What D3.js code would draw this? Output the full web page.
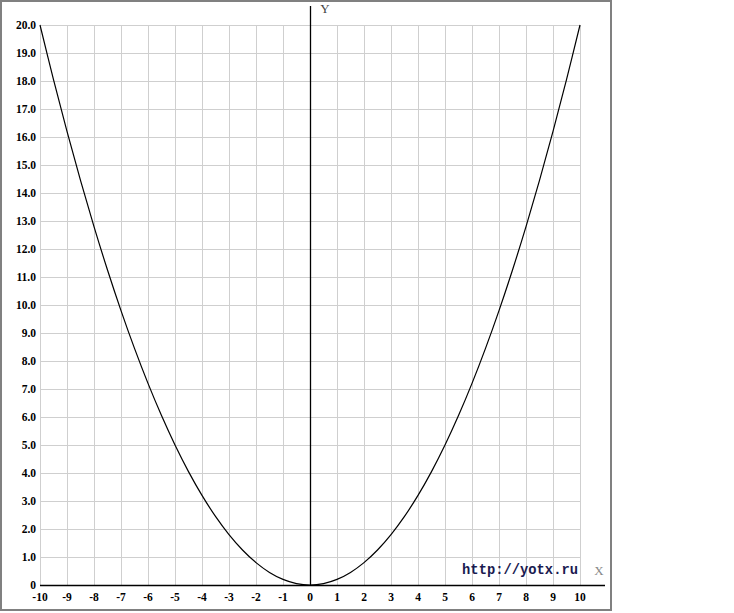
<!DOCTYPE html>
<html><head><meta charset="utf-8">
<script src="https://cdn.jsdelivr.net/npm/d3@7"></script>
<style>body{margin:0;background:#fff}svg{display:block}</style>
</head><body>
<script>
// Data (parabola points)
const xValues = [-10,-9.5,-9,-8.5,-8,-7.5,-7,-6.5,-6,-5.5,-5,-4.5,-4,-3.5,-3,-2.5,-2,-1.5,-1,-0.5,0,0.5,1,1.5,2,2.5,3,3.5,4,4.5,5,5.5,6,6.5,7,7.5,8,8.5,9,9.5,10];
const yValues = [20,18.05,16.2,14.45,12.8,11.25,9.8,8.45,7.2,6.05,5,4.05,3.2,2.45,1.8,1.25,0.8,0.45,0.2,0.05,0,0.05,0.2,0.45,0.8,1.25,1.8,2.45,3.2,4.05,5,6.05,7.2,8.45,9.8,11.25,12.8,14.45,16.2,18.05,20];
const xTicks = [-10,-9,-8,-7,-6,-5,-4,-3,-2,-1,0,1,2,3,4,5,6,7,8,9,10];
const yTicks = [0,1,2,3,4,5,6,7,8,9,10,11,12,13,14,15,16,17,18,19,20];
const yTickLabels = ["0","1.0","2.0","3.0","4.0","5.0","6.0","7.0","8.0","9.0","10.0","11.0","12.0","13.0","14.0","15.0","16.0","17.0","18.0","19.0","20.0"];
const watermark = "http://yotx.ru";

const W = 734, H = 613;
const svg = d3.select("body").append("svg").attr("width", W).attr("height", H);

const x = d3.scaleLinear().domain([-10, 10]).range([40, 580]);
const y = d3.scaleLinear().domain([0, 20]).range([585, 25]);

// frame
svg.append("rect").attr("x", 1).attr("y", 1).attr("width", 610).attr("height", 609)
  .attr("fill", "#fff").attr("stroke", "#808080").attr("stroke-width", 2);

// grid
const grid = svg.append("g").attr("stroke", "#cfcfcf").attr("stroke-width", 1).attr("shape-rendering", "crispEdges");
grid.selectAll("line.v").data(xTicks).join("line")
  .attr("x1", d => x(d) + 0.5).attr("x2", d => x(d) + 0.5)
  .attr("y1", y(20)).attr("y2", y(0));
grid.selectAll("line.h").data(yTicks).join("line")
  .attr("x1", x(-10)).attr("x2", x(10))
  .attr("y1", d => y(d) + 0.5).attr("y2", d => y(d) + 0.5);

// axes lines
svg.append("line").attr("x1", x(-10)).attr("x2", 605).attr("y1", y(0) + 0.5).attr("y2", y(0) + 0.5)
  .attr("stroke", "#000").attr("stroke-width", 1.3);
svg.append("line").attr("x1", x(0) + 0.5).attr("x2", x(0) + 0.5).attr("y1", 6).attr("y2", y(0))
  .attr("stroke", "#000").attr("stroke-width", 1.3);

// tick labels
svg.append("g").selectAll("text").data(yTicks).join("text")
  .attr("x", 36).attr("y", d => y(d)).attr("dy", "0.35em")
  .attr("text-anchor", "end")
  .attr("font-family", "'Liberation Serif', 'Times New Roman', serif")
  .attr("font-weight", "bold").attr("font-size", 11.5).attr("fill", "#000")
  .text((d, i) => yTickLabels[i]);

svg.append("g").selectAll("text").data(xTicks).join("text")
  .attr("x", d => x(d)).attr("y", 601)
  .attr("text-anchor", "middle")
  .attr("font-family", "'Liberation Serif', 'Times New Roman', serif")
  .attr("font-weight", "bold").attr("font-size", 11.5).attr("fill", "#000")
  .text(d => d);

// axis names
svg.append("text").attr("x", 325).attr("y", 13).attr("text-anchor", "middle")
  .attr("font-family", "'Liberation Serif', 'Times New Roman', serif")
  .attr("font-size", 13).attr("fill", "#444").text("Y");
svg.append("text").attr("x", 599).attr("y", 575).attr("text-anchor", "middle")
  .attr("font-family", "'Liberation Serif', 'Times New Roman', serif")
  .attr("font-size", 13).attr("fill", "#888").text("X");

// watermark
svg.append("text").attr("x", 578).attr("y", 574).attr("text-anchor", "end")
  .attr("font-family", "'Liberation Mono', 'Courier New', monospace")
  .attr("font-weight", "bold").attr("font-size", 13.8).attr("fill", "#1a1a50").text(watermark);

// curve
const pts = xValues.map((d, i) => [d, yValues[i]]);
svg.append("path").datum(pts)
  .attr("fill", "none").attr("stroke", "#000").attr("stroke-width", 1.2)
  .attr("d", d3.line().x(d => x(d[0])).y(d => y(d[1])).curve(d3.curveCatmullRom));
</script>
</body></html>
